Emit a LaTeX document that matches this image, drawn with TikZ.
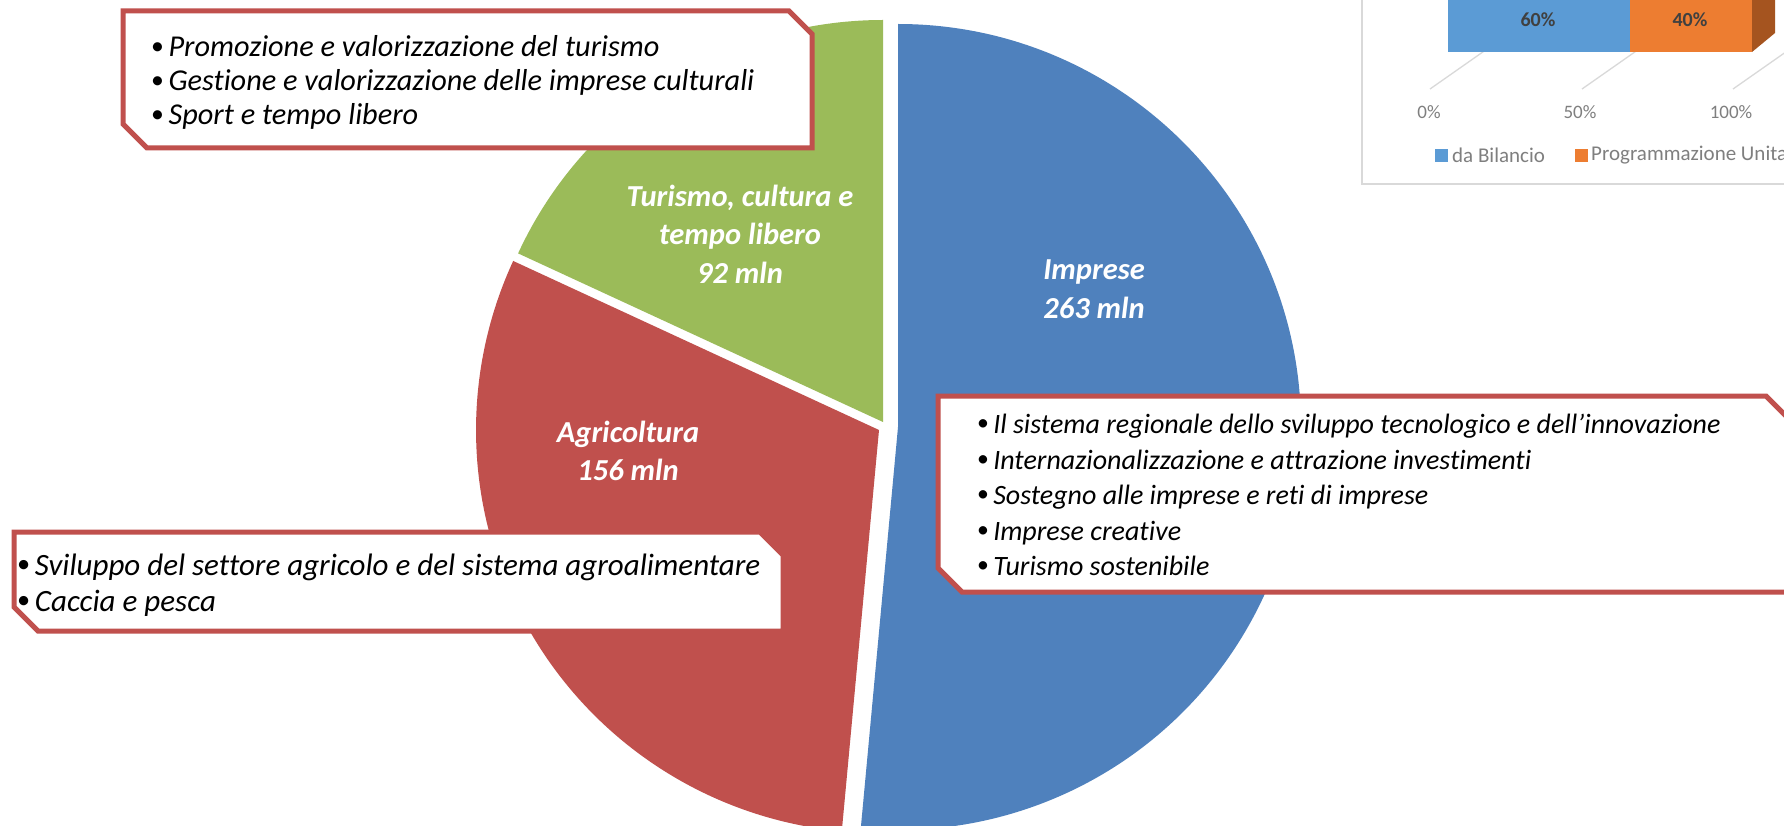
\documentclass[tikz,border=0pt]{standalone}
\usepackage{graphicx}
\usepackage{fontspec}
\setmainfont{Carlito}[Ligatures={NoCommon}]
\definecolor{pieblue}{HTML}{4F81BD}
\definecolor{piered}{HTML}{C0504D}
\definecolor{piegreen}{HTML}{9BBB59}
\definecolor{barblue}{HTML}{5B9BD5}
\definecolor{barorange}{HTML}{ED7D31}
\definecolor{barside}{HTML}{A5541F}
\definecolor{gridgray}{HTML}{D9D9D9}
\definecolor{axisgray}{HTML}{7F7F7F}
\definecolor{labelgray}{HTML}{404040}
\newcommand{\bul}{{\upshape\raisebox{0.08em}{\scalebox{0.85}{\textbullet}}}\hspace{0.15em}}
\begin{document}
\begin{tikzpicture}[x=1pt,y=1pt,
  callout/.style={fill=white, draw=piered, line width=5pt, line join=miter},
  item/.style={anchor=base west, inner sep=0pt, font=\itshape},
  topitem/.style={item, font=\fontsize{30.3}{34}\selectfont\itshape},
  leftitem/.style={item, font=\fontsize{31}{36}\selectfont\itshape},
  rightitem/.style={item, font=\fontsize{28}{34}\selectfont\itshape},
  slicelabel/.style={align=center, text=white, inner sep=0pt, font=\fontsize{30.5}{38.5}\selectfont\bfseries\itshape},
  barlabel/.style={inner sep=0pt, text=labelgray, font=\fontsize{20}{24}\selectfont\bfseries},
  axislabel/.style={inner sep=0pt, text=axisgray, font=\fontsize{19}{23}\selectfont},
  legendlabel/.style={anchor=west, inner sep=0pt, text=axisgray, font=\fontsize{21}{25}\selectfont},
  gridline/.style={draw=gridgray, line width=1.3pt}]
\useasboundingbox (0,0) rectangle (1784,-826);
\clip (0,0) rectangle (1784,-826);
\fill[white] (0,0) rectangle (1784,-826);
% pie slices (exploded)
\fill[piegreen] (883,-422) -- +(155.2:402) arc[start angle=155.2, end angle=90, radius=402] -- cycle;
\fill[pieblue] (898,-427) -- +(90:403) arc[start angle=90, end angle=-95.3, radius=403] -- cycle;
\fill[piered] (879,-430) -- +(264.7:403) arc[start angle=264.7, end angle=155.2, radius=403] -- cycle;
% slice labels
\node[slicelabel] (lturismo) at (740,-234) {Turismo, cultura e\\tempo libero\\92 mln};
\node[slicelabel] (limprese) at (1094,-289) {Imprese\\263 mln};
\node[slicelabel] (lagri) at (628,-451) {Agricoltura\\156 mln};
% callout boxes
\draw[callout] (123,-11) -- (789,-11) -- (812,-34) -- (812,-148) -- (147,-148) -- (123,-124) -- cycle;
\draw[callout] (14,-532) -- (760,-532) -- (783,-555) -- (783,-631) -- (38,-631) -- (14,-607) -- cycle;
\draw[callout] (938,-396) -- (1766,-396) -- (1790,-420) -- (1790,-592) -- (962,-592) -- (938,-568) -- cycle;
% top box items
\node[topitem] (t1) at (151,-57) {\bul Promozione e valorizzazione del turismo};
\node[topitem] (t2) at (151,-91) {\bul Gestione e valorizzazione delle imprese culturali};
\node[topitem] (t3) at (151,-125) {\bul Sport e tempo libero};
% left box items
\node[leftitem] (a1) at (17,-575) {\bul Sviluppo del settore agricolo e del sistema agroalimentare};
\node[leftitem] (a2) at (17,-611) {\bul Caccia e pesca};
% right box items
\node[rightitem] (i1) at (977,-433) {\bul Il sistema regionale dello sviluppo tecnologico e dell’innovazione};
\node[rightitem] (i2) at (977,-469) {\bul Internazionalizzazione e attrazione investimenti};
\node[rightitem] (i3) at (977,-504) {\bul Sostegno alle imprese e reti di imprese};
\node[rightitem] (i4) at (977,-540) {\bul Imprese creative};
\node[rightitem] (i5) at (977,-575) {\bul Turismo sostenibile};
% partial bar chart (top right)
\draw[gridgray, line width=1.5pt] (1362,0) -- (1362,-184) -- (1790,-184);
\draw[gridline] (1430,-89) -- (1557,0);
\draw[gridline] (1582,-89) -- (1709,0);
\draw[gridline] (1733,-89) -- (1860,0);
\fill[barblue] (1448,0) rectangle (1630,-52);
\fill[barorange] (1630,0) rectangle (1752,-52);
\fill[barside] (1752,0) -- (1775,0) -- (1775,-33) -- (1752,-52) -- cycle;
\node[barlabel] (p60) at (1538,-20) {60\%};
\node[barlabel] (p40) at (1690,-20) {40\%};
\node[axislabel] (x0) at (1429,-112) {0\%};
\node[axislabel] (x50) at (1580,-112) {50\%};
\node[axislabel] (x100) at (1731,-112) {100\%};
\fill[barblue] (1435,-149) rectangle (1448,-162);
\node[legendlabel] (lg1) at (1452,-155) {da Bilancio};
\fill[barorange] (1575,-149) rectangle (1588,-162);
\node[legendlabel] (lg2) at (1591,-155) {Programmazione Unita};
\end{tikzpicture}
\end{document}
